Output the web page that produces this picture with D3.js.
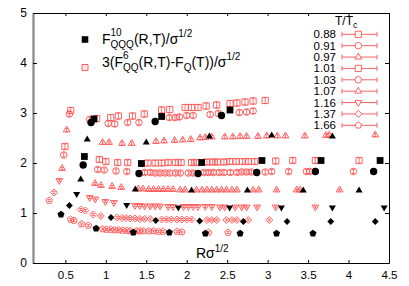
<!DOCTYPE html>
<html><head><meta charset="utf-8">
<script src="https://cdn.jsdelivr.net/npm/d3@7"></script>
<style>body{margin:0;background:#fff}svg{display:block}text{font-family:"Liberation Sans",Arial,sans-serif;fill:#000}</style>
</head><body>
<script>
// ---------- data ----------
const temps  = ["0.88","0.91","0.97","1.01","1.03","1.07","1.16","1.37","1.66"];
const shapes = ["square","circle","triangle","square","circle","triangle","triangleDown","diamond","pentagon"];
const errs   = [0.06,0.05,0.03,0.05,0.04,0.02,0.02,0.02,0.02];
const xTicks = [0.5,1,1.5,2,2.5,3,3.5,4,4.5];
const yTicks = [0,1,2,3,4,5];

// 3(F6_QQ - F_Q)/sqrt(sigma)  [R sqrt(sigma), value]
const qq_088 = [[0.566,3.05],[0.887,2.89],[1.06,2.91],[1.155,2.94],[1.33,2.94],[1.475,2.98],[1.69,3.06],[1.79,3.07],[1.98,3.11],[2.06,3.11],[2.14,3.11],[2.24,3.14],[2.37,3.16],[2.535,3.19],[2.62,3.2],[2.72,3.22],[2.82,3.24],[2.97,3.25]];
const qq_091 = [[0.549,2.98],[0.80,2.87],[1.03,2.79],[1.11,2.78],[1.27,2.81],[1.41,2.81],[1.785,2.91],[1.855,2.91],[1.91,2.92],[2.0,2.95],[2.08,2.95],[2.29,2.97],[2.39,2.99],[2.65,3.01],[2.74,3.02],[2.82,3.04]];
const qq_097 = [[0.516,2.66],[0.96,2.41],[1.04,2.41],[1.2,2.39],[1.32,2.39],[1.62,2.43],[1.72,2.44],[1.85,2.45],[1.95,2.46],[2.05,2.47],[2.165,2.5],[2.23,2.51],[2.31,2.52],[2.47,2.52],[2.57,2.52],[2.66,2.53],[2.74,2.53],[2.88,2.53],[2.99,2.54],[3.12,2.54],[3.22,2.54],[3.46,2.54],[3.72,2.55],[3.76,2.56],[4.33,2.56]];
const qq_101 = [[0.495,2.33],[0.92,2.07],[1.0,2.03],[1.147,2.01],[1.27,2.01],[1.52,2.0],[1.61,2.0],[1.69,2.0],[1.77,2.01],[1.86,2.01],[1.93,2.01],[2.06,2.01],[2.12,2.01],[2.25,2.02],[2.32,2.02],[2.38,2.02],[2.46,2.02],[2.53,2.03],[2.61,2.03],[2.69,2.03],[2.76,2.03],[2.84,2.03],[3.1,2.04],[3.31,2.05],[3.59,2.05],[4.13,2.05]];
const qq_103 = [[0.48,2.16],[0.9,1.87],[0.98,1.86],[1.126,1.84],[1.26,1.83],[1.48,1.81],[1.55,1.81],[1.61,1.8],[1.67,1.8],[1.73,1.8],[1.79,1.8],[1.86,1.8],[1.92,1.8],[2.02,1.8],[2.08,1.8],[2.21,1.81],[2.27,1.81],[2.33,1.81],[2.40,1.81],[2.46,1.81],[2.54,1.81],[2.62,1.81],[2.68,1.82],[2.74,1.82],[2.80,1.82],[2.97,1.82],[3.05,1.83],[3.26,1.83],[3.48,1.83],[3.52,1.83],[4.06,1.83]];
const qq_107 = [[0.46,1.89],[0.866,1.59],[0.94,1.55],[1.077,1.53],[1.19,1.51],[1.40,1.48],[1.46,1.48],[1.53,1.47],[1.59,1.47],[1.65,1.47],[1.71,1.47],[1.77,1.47],[1.83,1.47],[1.92,1.46],[1.98,1.46],[2.12,1.46],[2.19,1.46],[2.25,1.46],[2.31,1.46],[2.37,1.46],[2.43,1.46],[2.49,1.46],[2.56,1.46],[2.62,1.46],[2.82,1.46],[2.89,1.46],[3.11,1.46],[3.36,1.46],[3.40,1.46],[3.89,1.46]];
const qq_116 = [[0.425,1.65],[0.8,1.31],[0.87,1.28],[0.994,1.23],[1.1,1.21],[1.36,1.15],[1.42,1.15],[1.48,1.14],[1.55,1.14],[1.61,1.14],[1.67,1.14],[1.77,1.13],[1.83,1.13],[1.96,1.13],[2.02,1.13],[2.08,1.13],[2.14,1.13],[2.23,1.13],[2.31,1.13],[2.41,1.12],[2.47,1.12],[2.60,1.12],[2.68,1.12],[2.74,1.12],[2.87,1.12],[3.10,1.12],[3.59,1.12]];
const qq_137 = [[0.36,1.41],[0.69,1.07],[0.747,1.05],[0.845,0.97],[0.937,0.94],[1.14,0.91],[1.2,0.9],[1.25,0.9],[1.30,0.89],[1.36,0.89],[1.42,0.88],[1.48,0.88],[1.55,0.88],[1.69,0.87],[1.75,0.87],[1.81,0.87],[1.88,0.87],[1.94,0.87],[2.0,0.87],[2.06,0.87],[2.25,0.86],[2.31,0.86],[2.37,0.86],[2.49,0.86],[2.56,0.86],[2.62,0.86],[2.76,0.86],[3.02,0.86]];
const qq_166 = [[0.3,1.25],[0.566,0.87],[0.607,0.85],[0.70,0.78],[0.784,0.75],[0.96,0.68],[1.01,0.67],[1.06,0.67],[1.11,0.66],[1.16,0.66],[1.21,0.65],[1.26,0.65],[1.30,0.64],[1.38,0.64],[1.42,0.64],[1.46,0.64],[1.53,0.64],[1.59,0.64],[1.65,0.63],[1.71,0.63],[1.88,0.63],[1.94,0.62],[2.27,0.61],[2.51,0.61]];

// F10_QQQ/sqrt(sigma)
const qqq_088 = [[0.854,2.88],[1.69,2.93],[2.535,3.06]];
const qqq_091 = [[0.817,2.81],[1.61,2.83],[2.43,2.95]];
const qqq_097 = [[0.77,2.47],[1.5,2.41],[2.28,2.53],[3.05,2.55],[3.8,2.53]];
const qqq_101 = [[0.735,2.13],[1.44,1.99],[2.185,2.01],[2.93,2.05],[3.66,2.05],[4.39,2.05]];
const qqq_103 = [[0.72,1.96],[1.41,1.79],[2.14,1.79],[2.865,1.81],[3.59,1.83],[4.31,1.83]];
const qqq_107 = [[0.69,1.67],[1.365,1.47],[2.06,1.45],[2.75,1.45],[3.44,1.45],[4.13,1.45]];
const qqq_116 = [[0.64,1.38],[1.258,1.16],[1.896,1.11],[2.53,1.11],[3.17,1.11],[3.8,1.11],[4.44,1.11]];
const qqq_137 = [[0.55,1.15],[1.064,0.91],[1.617,0.85],[2.16,0.84],[2.7,0.83],[3.24,0.83],[3.78,0.83],[4.33,0.83]];
const qqq_166 = [[0.446,0.97],[0.88,0.69],[1.34,0.61],[1.785,0.61],[2.23,0.59],[2.66,0.59],[3.11,0.59],[3.56,0.59]];

const qqSeries  = [qq_088,qq_091,qq_097,qq_101,qq_103,qq_107,qq_116,qq_137,qq_166];
const qqqSeries = [qqq_088,qqq_091,qqq_097,qqq_101,qqq_103,qqq_107,qqq_116,qqq_137,qqq_166];

// ---------- layout ----------
const W = 409, H = 286, L = 33, Rt = 389, T = 13, B = 263;
const PINK = "#ff5252";
const FONT = '"Liberation Sans", Arial, sans-serif';

const x = d3.scaleLinear().domain([0.1, 4.5]).range([L, Rt]);
const y = d3.scaleLinear().domain([0, 5]).range([B, T]);

const svg = d3.select("body").append("svg").attr("width", W).attr("height", H);

function poly(n, r, start) {
  const pts = d3.range(n).map(i => {
    const a = (start + i * 360 / n) * Math.PI / 180;
    return [r * Math.cos(a), r * Math.sin(a)];
  });
  return "M" + pts.map(p => p[0].toFixed(2) + "," + p[1].toFixed(2)).join("L") + "Z";
}
function sym(type, s) {
  switch (type) {
    case "square": return `M${-s},${-s}H${s}V${s}H${-s}Z`;
    case "circle": return `M${s},0A${s},${s} 0 1,1 ${-s},0A${s},${s} 0 1,1 ${s},0Z`;
    case "triangle": return poly(3, s, -90);
    case "triangleDown": return poly(3, s, 90);
    case "diamond": return poly(4, s, -90);
    case "pentagon": return poly(5, s, -90);
  }
}
const pinkSize  = {square:3.1, circle:3.3, triangle:3.9, triangleDown:3.9, diamond:3.5, pentagon:3.4};
const blackSize = {square:3.4, circle:3.7, triangle:4.1, triangleDown:4.1, diamond:3.4, pentagon:3.7};

// ---------- axes ----------
const gx = svg.append("g").attr("transform", `translate(0,${B})`)
  .call(d3.axisBottom(x).tickValues(xTicks).tickSize(-3).tickSizeOuter(0).tickPadding(8).tickFormat(d3.format("")));
const gxt = svg.append("g").attr("transform", `translate(0,${T})`)
  .call(d3.axisTop(x).tickValues(xTicks).tickSize(-3).tickSizeOuter(0).tickFormat(""));
const gy = svg.append("g").attr("transform", `translate(${L},0)`)
  .call(d3.axisLeft(y).tickValues(yTicks).tickSize(-4).tickSizeOuter(0).tickPadding(6).tickFormat(d3.format("d")));
const gyr = svg.append("g").attr("transform", `translate(${Rt},0)`)
  .call(d3.axisRight(y).tickValues(yTicks).tickSize(-4).tickSizeOuter(0).tickFormat(""));

[gx, gxt, gy, gyr].forEach(g => {
  g.selectAll(".tick line").attr("stroke", "#000").attr("stroke-width", 1);
  g.selectAll("text").attr("fill", "#000").style("font-family", FONT);
});
gx.selectAll("text").style("font-size", "11.5px");
gy.selectAll("text").style("font-size", "12px");
gx.select(".domain").attr("stroke", "#000");
gxt.select(".domain").attr("stroke", "#000");
gyr.select(".domain").attr("stroke", "#000");
gy.select(".domain").attr("stroke", "#8c8c8c").attr("stroke-width", 2.3);

// ---------- pink (QQ) series with error bars ----------
const plot = svg.append("g");
qqSeries.forEach((ser, i) => {
  const g = plot.append("g");
  const e = errs[i];
  const pts = g.selectAll("g.p").data(ser).join("g")
    .attr("transform", d => `translate(${x(d[0])},${y(d[1])})`);
  pts.append("path").attr("d", sym(shapes[i], pinkSize[shapes[i]]))
    .attr("fill", "none").attr("stroke", PINK).attr("stroke-width", 0.9);
  pts.append("path")
    .attr("d", d => {
      const h = y(d[1] - e) - y(d[1]);
      return `M0,${-h}V${h}M-1.5,${-h}H1.5M-1.5,${h}H1.5`;
    })
    .attr("fill", "none").attr("stroke", PINK).attr("stroke-width", 0.8);
});

// ---------- black (QQQ) series ----------
qqqSeries.forEach((ser, i) => {
  plot.append("g").selectAll("path").data(ser).join("path")
    .attr("transform", d => `translate(${x(d[0])},${y(d[1])})`)
    .attr("d", sym(shapes[i], blackSize[shapes[i]]))
    .attr("fill", "#000");
});

// ---------- rich text helper ----------
function rich(parent, x0, y0, parts) {
  let cx = x0;
  parts.forEach(p => {
    if (p.stack) {
      let w = 0;
      p.stack.forEach(q => {
        const t = parent.append("text").attr("x", cx).attr("y", y0 + (q.dy || 0))
          .style("font-size", q.s + "px").text(q.t);
        w = Math.max(w, t.node().getComputedTextLength());
      });
      cx += w;
    } else {
      const t = parent.append("text").attr("x", cx).attr("y", y0 + (p.dy || 0))
        .style("font-size", p.s + "px").text(p.t);
      cx += t.node().getComputedTextLength();
    }
  });
  return cx;
}

// x axis label
rich(svg, 196, 258, [{t:"Rσ", s:14}, {t:"1/2", s:10, dy:-6}]);

// top-left legend
svg.append("path").attr("transform", "translate(85,39.5)").attr("d", sym("square", 3.3)).attr("fill", "#000");
rich(svg, 102, 44, [{t:"F", s:14}, {stack:[{t:"10", s:10, dy:-8}, {t:"QQQ", s:10, dy:3.5}]},
                    {t:"(R,T)/σ", s:14}, {t:"1/2", s:10, dy:-7}]);
svg.append("path").attr("transform", "translate(85,67.5)").attr("d", sym("square", 3))
  .attr("fill", "#ffe6e6").attr("stroke", PINK).attr("stroke-width", 0.9);
rich(svg, 102, 67, [{t:"3(F", s:14}, {stack:[{t:"6", s:10, dy:-8}, {t:"QQ", s:10, dy:3.5}]},
                    {t:"(R,T)-F", s:14}, {t:"Q", s:10, dy:3.5}, {t:"(T))/σ", s:14}, {t:"1/2", s:10, dy:-7}]);

// right legend (temperatures)
rich(svg, 335, 25, [{t:"T/T", s:12}, {t:"c", s:9, dy:3}]);
const legY0 = 34.3, legDy = 11.375;
temps.forEach((tLab, i) => {
  const cy = legY0 + i * legDy;
  svg.append("text").attr("x", 336).attr("y", cy + 4).attr("text-anchor", "end")
    .style("font-size", "11.5px").text(tLab);
  svg.append("path").attr("d", `M342,${cy}H377M342,${cy-2.5}V${cy+2.5}M377,${cy-2.5}V${cy+2.5}`)
    .attr("stroke", PINK).attr("stroke-width", 0.9).attr("fill", "none");
  svg.append("path").attr("transform", `translate(358.3,${cy})`)
    .attr("d", sym(shapes[i], pinkSize[shapes[i]]))
    .attr("fill", "#fff").attr("stroke", PINK).attr("stroke-width", 0.9);
});
</script>
</body></html>
